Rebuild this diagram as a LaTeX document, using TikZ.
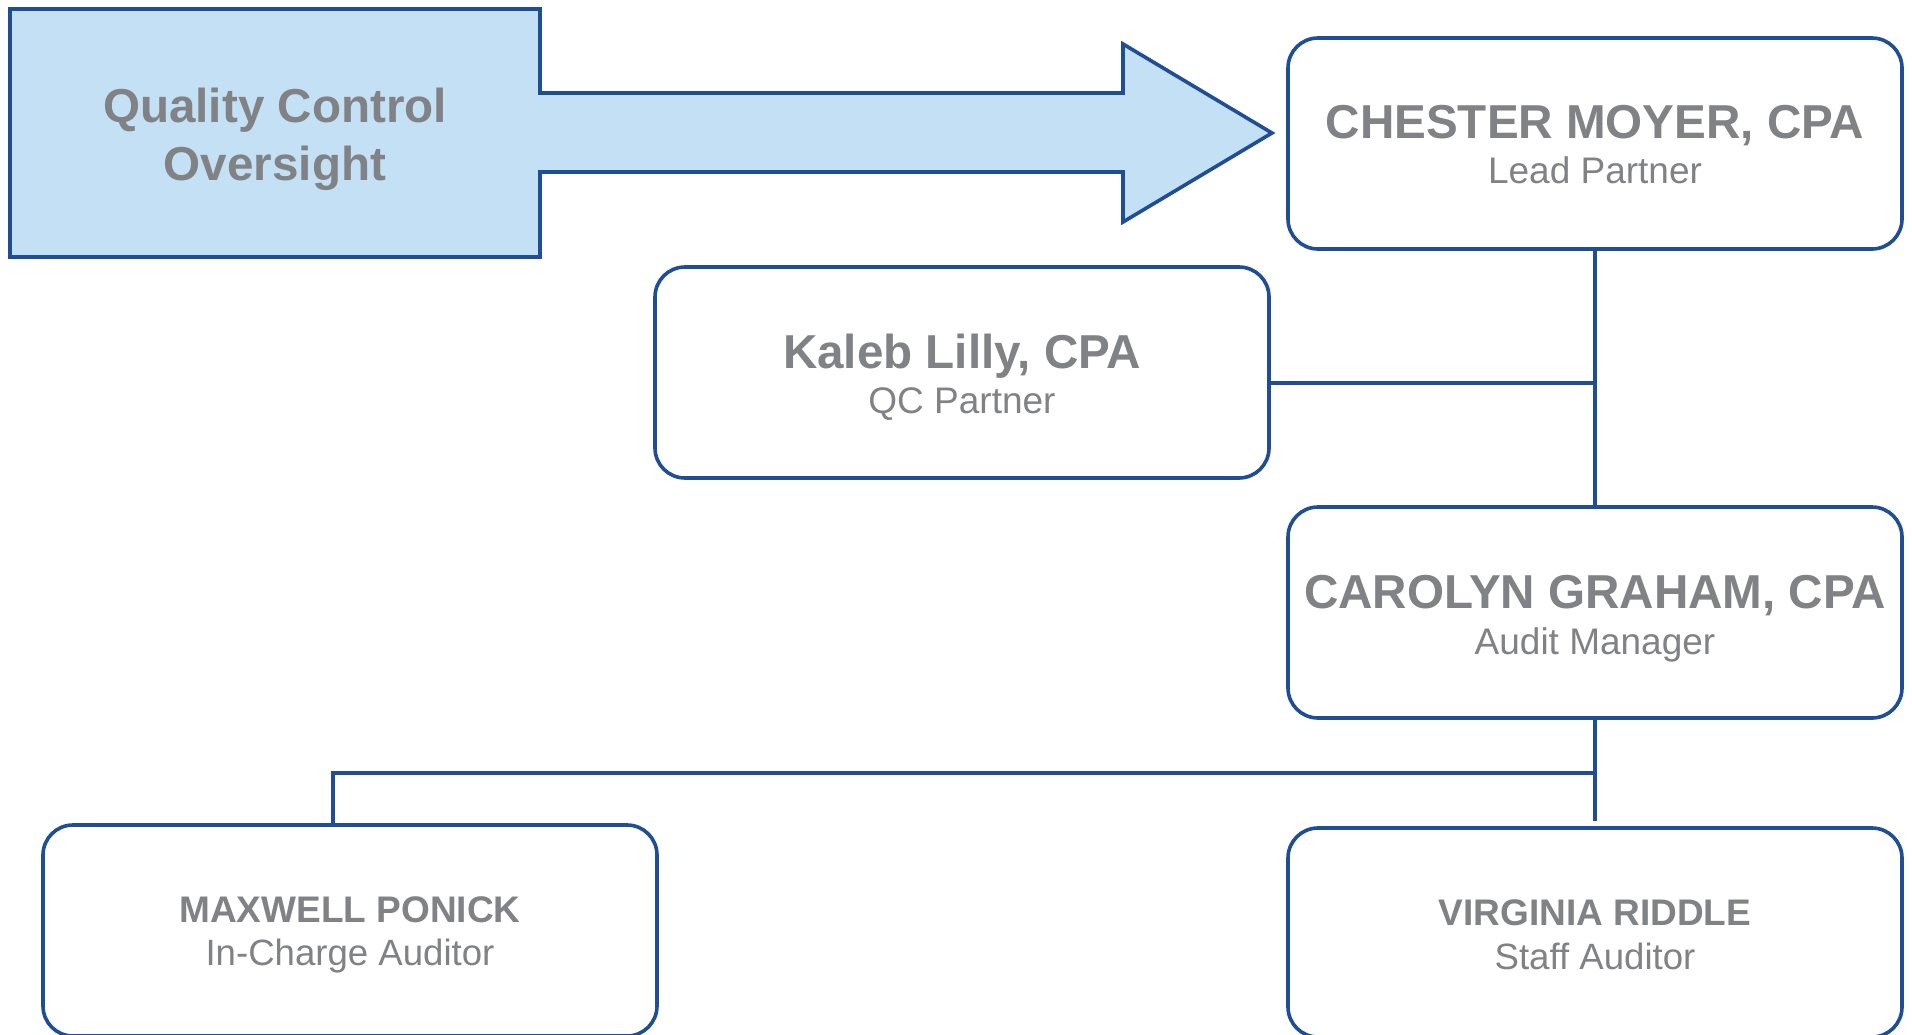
\documentclass[tikz,border=0pt]{standalone}
\usepackage{fontspec}
\setmainfont{Liberation Sans}
\definecolor{navy}{RGB}{31,78,150}
\definecolor{lightfill}{RGB}{196,224,244}
\definecolor{txtgray}{RGB}{128,130,133}
\begin{document}
\begin{tikzpicture}[x=1pt,y=-1pt,
  box/.style={draw=navy, line width=3.6pt, rounded corners=30pt, fill=white,
    minimum width=614pt, minimum height=211pt, inner sep=0pt, outer sep=0pt},
  ttl/.style={anchor=base, text=txtgray, inner sep=0pt, font=\fontsize{47.6}{56}\selectfont\bfseries},
  sub/.style={anchor=base, text=txtgray, inner sep=0pt, font=\fontsize{37}{44}\selectfont},
  ttls/.style={anchor=base, text=txtgray, inner sep=0pt, font=\fontsize{37}{44}\selectfont\bfseries},
  subs/.style={anchor=base, text=txtgray, inner sep=0pt, font=\fontsize{36.6}{44}\selectfont},
  link/.style={draw=navy, line width=3.2pt}]
\useasboundingbox (0,0) rectangle (1912,1034);
\fill[white] (0,0) rectangle (1912,1034);

% Quality control arrow shape
\draw[navy, line width=3.6pt, fill=lightfill, line join=miter]
  (10,9) -- (540,9) -- (540,93) -- (1123,93) -- (1123,44) -- (1272,133)
  -- (1123,222) -- (1123,172) -- (540,172) -- (540,257) -- (10,257) -- cycle;
\node[ttl] (qc1) at (275,122) {Quality Control};
\node[ttl] (qc2) at (275,180) {Oversight};

% boxes
\node[box] (chester) at (1595,143.5) {};
\node[box] (kaleb) at (962,372.5) {};
\node[box] (carolyn) at (1595,612.5) {};
\node[box, minimum height=211pt] (maxwell) at (350,930.5) {};
\node[box, minimum height=209pt] (virginia) at (1595,932.5) {};

% texts
\node[ttl] (chestert) at (1595,138) {CHESTER MOYER, CPA};
\node[sub] (chesters) at (1595,183) {Lead Partner};
\node[ttl] (kalebt) at (962,368) {Kaleb Lilly, CPA};
\node[sub] (kalebs) at (962,413) {QC Partner};
\node[ttl] (carolynt) at (1595,608) {CAROLYN GRAHAM, CPA};
\node[sub] (carolyns) at (1595,654) {Audit Manager};
\node[ttls] (maxwellt) at (350,922) {MAXWELL PONICK};
\node[subs] (maxwells) at (350,965) {In-Charge Auditor};
\node[ttls] (virginiat) at (1595,925) {VIRGINIA RIDDLE};
\node[subs] (virginias) at (1595,969) {Staff Auditor};

% connectors
\path (kaleb.east) ++(0,10.5) coordinate (kjoin);
\coordinate (vend) at (1595,821);
\coordinate (bus) at (1595,773);
\coordinate (mtop) at (333,826);
\draw[link] (chester.south) -- (carolyn.north);
\draw[link] (kjoin) -- (kjoin -| chester.south);
\draw[link] (carolyn.south) -- (vend);
\draw[link] (bus) -| (mtop);
\end{tikzpicture}
\end{document}
